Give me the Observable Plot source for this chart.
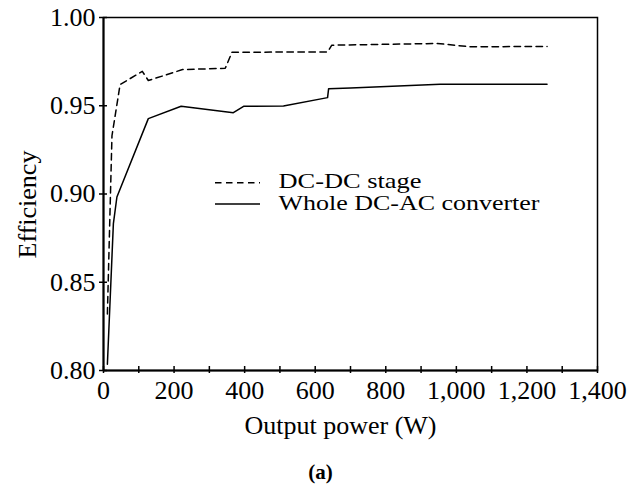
<!DOCTYPE html>
<html><head><meta charset="utf-8">
<script src="https://cdn.jsdelivr.net/npm/d3@7"></script>
<script src="https://cdn.jsdelivr.net/npm/@observablehq/plot@0.6"></script>
<style>
body{margin:0;background:#fff;}
#wrap{position:relative;width:639px;height:486px;}
#legend{position:absolute;left:0;top:0;pointer-events:none;}
</style></head><body>
<div id="wrap"></div>
<script>
// Data
const dcPower   = [11, 24, 47, 110, 127, 224, 345, 364, 635, 647, 945, 1040, 1257];
const dcEff     = [0.832, 0.933, 0.962, 0.9695, 0.9643, 0.9705, 0.9712, 0.9803, 0.9805, 0.9843, 0.9853, 0.9834, 0.9836];
const wholePower = [11, 28, 38, 127, 220, 368, 397, 510, 635, 638, 700, 954, 1257];
const wholeEff   = [0.8035, 0.8832, 0.8983, 0.9427, 0.9497, 0.9461, 0.9497, 0.9499, 0.9546, 0.9597, 0.960, 0.9622, 0.9622];
const xTickValues  = [0,100,200,300,400,500,600,700,800,900,1000,1100,1200,1300,1400];
const xLabelValues = [0,200,400,600,800,1000,1200,1400];
const yTickValues  = [0.80,0.85,0.90,0.95,1.00];
const seriesNames = ["DC-DC stage", "Whole DC-AC converter"];
const xLabel = "Output power (W)";
const yLabel = "Efficiency";
const caption = "(a)";

const dc = dcPower.map((x, i) => ({x, y: dcEff[i]}));
const whole = wholePower.map((x, i) => ({x, y: wholeEff[i]}));
const font = "'Liberation Serif','Times New Roman',Times,serif";

const plot = Plot.plot({
  width: 639, height: 486,
  marginLeft: 103, marginRight: 42, marginTop: 17, marginBottom: 116,
  style: {fontFamily: font, fontSize: "26px", color: "#000", background: "#fff"},
  x: {domain: [0, 1400], axis: null},
  y: {domain: [0.8, 1.0], axis: null},
  marks: [
    Plot.frame({stroke: "#000", strokeWidth: 1.5}),
    Plot.text(xLabelValues, {x: d => d, text: d => d3.format(",")(d), frameAnchor: "bottom", lineAnchor: "top", textAnchor: "middle", dy: 10.5, fontSize: 26, fontFamily: font, fill: "#000"}),
    Plot.text(yTickValues, {y: d => d, text: d => d3.format(".2f")(d), frameAnchor: "left", lineAnchor: "middle", textAnchor: "end", dx: -8, fontSize: 26, fontFamily: font, fill: "#000"}),
    Plot.tickX(xTickValues, {x: d => d, insetTop: 349, insetBottom: -3, stroke: "#000", strokeWidth: 1.5}),
    Plot.tickY(yTickValues, {y: d => d, insetLeft: -4, insetRight: 490, stroke: "#000", strokeWidth: 1.5}),
    Plot.ruleX([0], {stroke: "#000", strokeWidth: 2}),
    Plot.ruleY([0.8], {stroke: "#000", strokeWidth: 2}),
    Plot.line(dc, {x: "x", y: "y", stroke: "#000", strokeWidth: 1.5, strokeDasharray: "6.5,4.5"}),
    Plot.line(whole, {x: "x", y: "y", stroke: "#000", strokeWidth: 1.5}),
    Plot.text([xLabel], {text: d => d, frameAnchor: "bottom", lineAnchor: "middle", textAnchor: "middle", dx: -10, dy: 54.7, fontSize: 26, fontFamily: font, fill: "#000"}),
    Plot.text([yLabel], {text: d => d, frameAnchor: "left", lineAnchor: "middle", textAnchor: "middle", rotate: -90, dx: -76.3, dy: 10.5, fontSize: 26, fontFamily: font, fill: "#000"}),
    Plot.text([caption], {text: d => d, frameAnchor: "bottom", lineAnchor: "middle", textAnchor: "middle", dx: -30, dy: 101.3, fontSize: 21, fontWeight: "bold", fontFamily: font, fill: "#000"})
  ]
});
const wrap = document.getElementById("wrap");
wrap.appendChild(plot);

// Legend overlay
const ns = "http://www.w3.org/2000/svg";
const lg = document.createElementNS(ns, "svg");
lg.setAttribute("id", "legend");
lg.setAttribute("width", 639);
lg.setAttribute("height", 486);
const legendRows = [
  {name: seriesNames[0], dash: "6.5,4.5", lineY: 182.7, textY: 188, len: 143},
  {name: seriesNames[1], dash: null, lineY: 204, textY: 210, len: 261}
];
for (const r of legendRows) {
  const l = document.createElementNS(ns, "line");
  l.setAttribute("x1", 215); l.setAttribute("x2", 260);
  l.setAttribute("y1", r.lineY); l.setAttribute("y2", r.lineY);
  l.setAttribute("stroke", "#000"); l.setAttribute("stroke-width", 1.5);
  if (r.dash) l.setAttribute("stroke-dasharray", r.dash);
  lg.appendChild(l);
  const t = document.createElementNS(ns, "text");
  t.setAttribute("x", 278.5); t.setAttribute("y", r.textY);
  t.setAttribute("font-family", font); t.setAttribute("font-size", 21);
  t.setAttribute("textLength", r.len); t.setAttribute("lengthAdjust", "spacingAndGlyphs");
  t.setAttribute("fill", "#000");
  t.textContent = r.name;
  lg.appendChild(t);
}
wrap.appendChild(lg);
</script>
</body></html>
